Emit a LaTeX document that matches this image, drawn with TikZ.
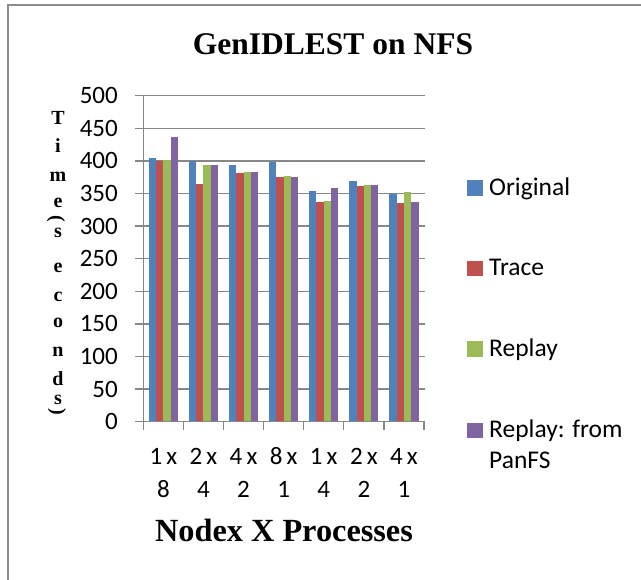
\documentclass[tikz,border=0pt]{standalone}
\usepackage{fontspec}
\usepackage{graphicx}
\setmainfont{Liberation Serif}
\newfontfamily\calib{Carlito}
\definecolor{serA}{HTML}{4F81BD}
\definecolor{serB}{HTML}{C0504D}
\definecolor{serC}{HTML}{9BBB59}
\definecolor{serD}{HTML}{8064A2}
\definecolor{gridgray}{HTML}{878787}
\definecolor{framegray}{HTML}{8C8C8C}
\tikzset{
  gridline/.style={draw=gridgray, line width=1.3pt},
  frameline/.style={draw=framegray, line width=2pt},
  ticklabel/.style={font=\calib\fontsize{25}{30}\selectfont, inner sep=0pt},
  legendtext/.style={font=\calib\fontsize{25.5}{30.5}\selectfont, inner sep=0pt, anchor=base west},
  axisletter/.style={font=\bfseries\fontsize{20}{24}\selectfont, inner sep=0pt},
  titletext/.style={font=\bfseries\fontsize{31.5}{36}\selectfont, inner sep=0pt, anchor=base},
  swatch/.style={minimum size=15.5pt, inner sep=0pt, draw=none}
}
\begin{document}
\begin{tikzpicture}[x=1pt, y=-1pt]
\useasboundingbox (0,0) rectangle (641,580);
\fill[white] (0,0) rectangle (641,580);
% chart frame (left and top edges)
\draw[frameline] (8,580) -- (8,5) -- (641,5);

% plot geometry
\def\xo{143.3}
\def\yo{421.7}
\def\cw{40.1}
\def\ys{0.652}
\def\bw{7.3}

% horizontal grid lines with their tick stubs
\foreach \v in {50,100,...,500}{
  \draw[gridline] (135,{\yo-\ys*\v}) -- (425,{\yo-\ys*\v});
}

% bars
\foreach \a/\b/\c/\d [count=\i from 0] in
  {404/400/402/436, 400/365/393/393, 393/381/383/383, 399/375/377/375,
   354/337/339/359, 369/361/363/363, 350/335/353/337}{
  \pgfmathsetmacro{\xl}{\xo+\cw*\i+5.45}
  \fill[serA] (\xl,\yo) rectangle ({\xl+\bw},{\yo-\ys*\a});
  \fill[serB] ({\xl+\bw},\yo) rectangle ({\xl+2*\bw},{\yo-\ys*\b});
  \fill[serC] ({\xl+2*\bw},\yo) rectangle ({\xl+3*\bw},{\yo-\ys*\c});
  \fill[serD] ({\xl+3*\bw},\yo) rectangle ({\xl+4*\bw},{\yo-\ys*\d});
}

% axes
\draw[gridline] (\xo,{\yo-\ys*500}) -- (\xo,\yo);
\draw[gridline] (135,\yo) -- (425,\yo);
\foreach \k in {0,...,7}{
  \draw[gridline] ({\xo+\cw*\k},\yo) -- ({\xo+\cw*\k},430.5);
}

% value labels
\foreach \v in {0,50,...,500}{
  \node[ticklabel, anchor=east] (yt\v) at (118,{\yo-\ys*\v}) {\v};
}

% category labels
\foreach \p/\q [count=\i from 0] in {1/8, 2/4, 4/2, 8/1, 1/4, 2/2, 4/1}{
  \node[ticklabel, anchor=base] (cxa\i) at ({\xo+\cw*\i+\cw/2},465) {\p\,x};
  \node[ticklabel, anchor=base] (cxb\i) at ({\xo+\cw*\i+\cw/2},498) {\q};
}

% titles
\node[titletext] (title) at (333,55) {GenIDLEST on NFS};
\node[titletext, font=\bfseries\fontsize{32.3}{36}\selectfont] (xtitle) at (284,542) {Nodex X Processes};

% stacked vertical axis title
\foreach \ch/\yy [count=\k] in {T/125, i/153, m/182, e/208, s/238, e/273,
  c/302, o/328, n/357, d/386, s/405}{
  \node[axisletter, anchor=base] (yl\k) at (58,\yy) {\ch};
}
\node[axisletter] (ylpa) at (56,219) {\rotatebox{-90}{(}};
\node[axisletter] (ylpb) at (57,412) {\rotatebox{-90}{)}};

% legend
\node[swatch, fill=serA] (kA) at (475,188) {};
\node[swatch, fill=serB] (kB) at (475,268.5) {};
\node[swatch, fill=serC] (kC) at (475,349) {};
\node[swatch, fill=serD] (kD) at (475,430.5) {};
\node[legendtext] (lA) at (489,196) {Original};
\node[legendtext] (lB) at (489,276) {Trace};
\node[legendtext] (lC) at (489,357) {Replay};
\node[legendtext] (lD) at (489,438) {Replay: from};
\node[legendtext] (lD2) at (489,469) {PanFS};
\end{tikzpicture}
\end{document}
